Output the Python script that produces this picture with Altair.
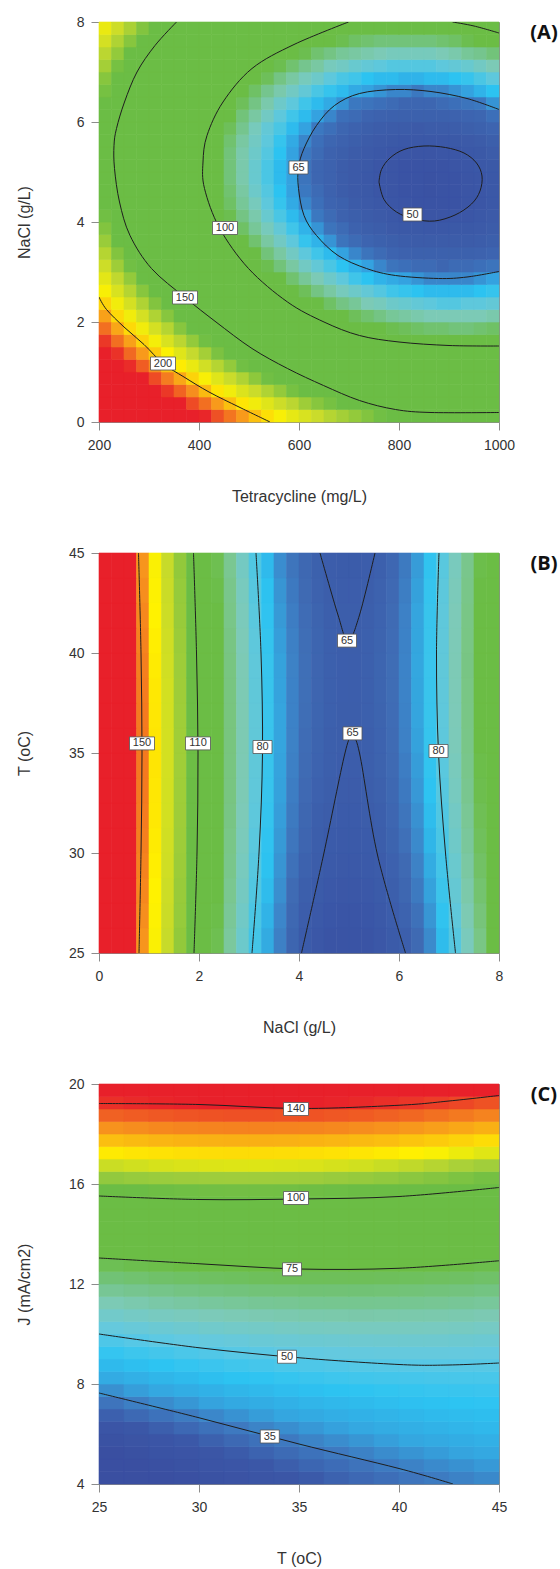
import altair as alt
import pandas as pd

FONT = "Liberation Sans"

# ---------------------------------------------------------------------------
# (A) response over Tetracycline (mg/L) x NaCl (g/L)
# cell centres and the response read at each cell (rows: NaCl ascending)
# ---------------------------------------------------------------------------
A_TC = [212.5, 237.5, 262.5, 287.5, 312.5, 337.5, 362.5, 387.5,
        412.5, 437.5, 462.5, 487.5, 512.5, 537.5, 562.5, 587.5,
        612.5, 637.5, 662.5, 687.5, 712.5, 737.5, 762.5, 787.5,
        812.5, 837.5, 862.5, 887.5, 912.5, 937.5, 962.5, 987.5]
A_NACL = [0.125, 0.375, 0.625, 0.875, 1.125, 1.375, 1.625, 1.875,
          2.125, 2.375, 2.625, 2.875, 3.125, 3.375, 3.625, 3.875,
          4.125, 4.375, 4.625, 4.875, 5.125, 5.375, 5.625, 5.875,
          6.125, 6.375, 6.625, 6.875, 7.125, 7.375, 7.625, 7.875]
A_VALUES = [
    [289, 280, 271, 262, 254, 246, 239, 232, 225, 218, 212, 206, 200, 195, 190, 185, 181, 177, 173, 170, 167, 164, 161, 159, 157, 156, 155, 154, 153, 153, 153, 154],
    [276, 267, 258, 250, 242, 234, 227, 219, 213, 206, 200, 194, 188, 183, 178, 174, 169, 165, 162, 158, 155, 152, 150, 148, 146, 145, 144, 143, 142, 142, 142, 143],
    [264, 255, 246, 238, 230, 222, 215, 208, 201, 194, 188, 182, 177, 172, 167, 162, 158, 154, 150, 147, 144, 141, 139, 137, 135, 134, 133, 132, 132, 131, 132, 132],
    [253, 244, 235, 227, 219, 211, 204, 197, 190, 183, 177, 172, 166, 161, 156, 152, 147, 144, 140, 137, 134, 131, 129, 127, 125, 124, 123, 122, 122, 122, 122, 123],
    [242, 233, 224, 216, 208, 200, 193, 186, 179, 173, 167, 161, 156, 151, 146, 142, 137, 134, 130, 127, 124, 121, 119, 117, 116, 114, 113, 113, 112, 112, 113, 113],
    [232, 223, 214, 206, 198, 191, 183, 176, 170, 163, 157, 152, 146, 141, 137, 132, 128, 124, 121, 118, 115, 112, 110, 108, 107, 106, 105, 104, 104, 104, 104, 105],
    [222, 213, 205, 197, 189, 181, 174, 167, 161, 154, 148, 143, 137, 132, 128, 123, 119, 116, 112, 109, 106, 104, 102, 100, 99, 97, 96, 96, 96, 96, 96, 97],
    [213, 204, 196, 188, 180, 173, 165, 159, 152, 146, 140, 134, 129, 124, 120, 115, 111, 108, 104, 101, 99, 96, 94, 92, 91, 90, 89, 89, 88, 88, 89, 90],
    [205, 196, 188, 180, 172, 165, 157, 151, 144, 138, 132, 127, 122, 117, 112, 108, 104, 100, 97, 94, 91, 89, 87, 85, 84, 83, 82, 82, 82, 82, 82, 83],
    [197, 188, 180, 172, 164, 157, 150, 143, 137, 131, 125, 120, 114, 110, 105, 101, 97, 94, 90, 87, 85, 82, 81, 79, 78, 77, 76, 75, 75, 76, 76, 77],
    [190, 181, 173, 165, 158, 150, 143, 137, 130, 124, 119, 113, 108, 103, 99, 95, 91, 87, 84, 81, 79, 77, 75, 73, 72, 71, 70, 70, 70, 70, 71, 72],
    [184, 175, 167, 159, 151, 144, 137, 131, 124, 118, 113, 107, 102, 98, 93, 89, 85, 82, 79, 76, 73, 71, 69, 68, 67, 66, 65, 65, 65, 65, 66, 67],
    [178, 169, 161, 153, 146, 139, 132, 125, 119, 113, 107, 102, 97, 92, 88, 84, 80, 77, 74, 71, 69, 67, 65, 63, 62, 61, 61, 60, 61, 61, 62, 63],
    [173, 164, 156, 148, 141, 134, 127, 120, 114, 108, 103, 97, 93, 88, 84, 80, 76, 73, 70, 67, 65, 63, 61, 59, 58, 57, 57, 57, 57, 57, 58, 59],
    [168, 160, 152, 144, 136, 129, 123, 116, 110, 104, 99, 93, 89, 84, 80, 76, 72, 69, 66, 63, 61, 59, 57, 56, 55, 54, 54, 54, 54, 54, 55, 56],
    [164, 156, 148, 140, 133, 126, 119, 113, 107, 101, 95, 90, 85, 81, 77, 73, 69, 66, 63, 61, 58, 56, 55, 53, 52, 52, 51, 51, 52, 52, 53, 54],
    [161, 152, 145, 137, 130, 123, 116, 110, 104, 98, 92, 87, 83, 78, 74, 70, 67, 64, 61, 58, 56, 54, 53, 51, 50, 50, 49, 49, 50, 50, 51, 53],
    [158, 150, 142, 134, 127, 120, 114, 107, 101, 96, 90, 85, 81, 76, 72, 68, 65, 62, 59, 57, 54, 53, 51, 50, 49, 48, 48, 48, 48, 49, 50, 51],
    [156, 148, 140, 132, 125, 118, 112, 106, 100, 94, 89, 84, 79, 75, 71, 67, 64, 61, 58, 55, 53, 52, 50, 49, 48, 48, 47, 48, 48, 49, 50, 51],
    [154, 146, 139, 131, 124, 117, 111, 105, 99, 93, 88, 83, 78, 74, 70, 67, 63, 60, 58, 55, 53, 51, 50, 49, 48, 48, 47, 48, 48, 49, 50, 51],
    [154, 146, 138, 130, 123, 117, 110, 104, 98, 93, 88, 83, 78, 74, 70, 67, 63, 60, 58, 55, 53, 52, 50, 49, 48, 48, 48, 48, 49, 50, 51, 52],
    [153, 145, 138, 130, 123, 117, 110, 104, 99, 93, 88, 83, 79, 75, 71, 67, 64, 61, 58, 56, 54, 53, 51, 50, 50, 49, 49, 50, 50, 51, 52, 54],
    [154, 146, 138, 131, 124, 117, 111, 105, 99, 94, 89, 84, 80, 76, 72, 68, 65, 62, 60, 58, 56, 54, 53, 52, 51, 51, 51, 51, 52, 53, 54, 56],
    [155, 147, 140, 132, 125, 119, 112, 107, 101, 96, 91, 86, 81, 77, 74, 70, 67, 64, 62, 60, 58, 56, 55, 54, 54, 53, 54, 54, 55, 56, 57, 59],
    [157, 149, 141, 134, 127, 121, 115, 109, 103, 98, 93, 88, 84, 80, 76, 73, 70, 67, 65, 62, 61, 59, 58, 57, 57, 57, 57, 57, 58, 59, 60, 62],
    [159, 151, 144, 137, 130, 123, 117, 111, 106, 101, 96, 91, 87, 83, 79, 76, 73, 70, 68, 66, 64, 63, 62, 61, 60, 60, 60, 61, 62, 63, 64, 66],
    [162, 154, 147, 140, 133, 126, 120, 115, 109, 104, 99, 95, 90, 86, 83, 80, 77, 74, 72, 70, 68, 67, 66, 65, 65, 64, 65, 65, 66, 67, 69, 71],
    [165, 158, 150, 143, 137, 130, 124, 118, 113, 108, 103, 99, 95, 91, 87, 84, 81, 79, 76, 74, 73, 71, 70, 70, 69, 69, 70, 70, 71, 72, 74, 76],
    [170, 162, 155, 148, 141, 135, 129, 123, 118, 113, 108, 104, 99, 96, 92, 89, 86, 84, 81, 80, 78, 77, 76, 75, 75, 75, 75, 76, 77, 78, 80, 82],
    [174, 167, 160, 153, 146, 140, 134, 128, 123, 118, 113, 109, 105, 101, 98, 95, 92, 89, 87, 85, 84, 83, 82, 81, 81, 81, 81, 82, 83, 85, 86, 88],
    [180, 172, 165, 158, 152, 146, 140, 134, 129, 124, 119, 115, 111, 107, 104, 101, 98, 96, 94, 92, 90, 89, 88, 88, 88, 88, 88, 89, 90, 92, 93, 95],
    [186, 178, 171, 164, 158, 152, 146, 140, 135, 130, 126, 122, 118, 114, 111, 108, 105, 103, 101, 99, 98, 96, 96, 95, 95, 95, 96, 97, 98, 99, 101, 103],
]
A_C200 = [(200, 2.50), (215, 2.25), (250, 1.90), (290, 1.55), (328, 1.17),
          (370, 0.90), (420, 0.60), (480, 0.30), (542, 0.00)]
A_C150 = [(355, 8.0), (312, 7.53), (276, 7.0), (251, 6.4), (235, 5.87), (230, 5.53),
          (231, 5.07), (241, 4.4), (262, 3.73), (305, 3.07), (372, 2.49), (434, 2.0),
          (506, 1.47), (577, 1.07), (649, 0.73), (721, 0.43), (793, 0.25), (864, 0.19),
          (1000, 0.19)]
A_C100 = [(699, 8.0), (590, 7.55), (506, 7.07), (448, 6.4), (416, 5.73), (408, 5.2),
          (411, 4.67), (441, 3.88), (499, 3.07), (577, 2.4), (650, 2.0), (721, 1.73),
          (800, 1.6), (900, 1.53), (1000, 1.52)]
A_C100_CORNER = [(907, 8.0), (950, 7.92), (1000, 7.78)]
A_C65 = [(1000, 6.25), (936, 6.47), (864, 6.61), (793, 6.65), (721, 6.57), (671, 6.33),
         (635, 5.93), (610, 5.47), (599, 5.09), (599, 4.67), (610, 4.13), (635, 3.73),
         (678, 3.33), (735, 3.07), (793, 2.93), (879, 2.87), (936, 2.9), (1000, 3.01)]
A_C50 = [(760, 4.80), (765, 5.05), (782, 5.28), (810, 5.45), (850, 5.52), (893, 5.49),
         (930, 5.38), (955, 5.18), (966, 4.92), (962, 4.62), (945, 4.36), (912, 4.14),
         (871, 4.02), (830, 4.06), (795, 4.20), (770, 4.45), (760, 4.80)]
A_LABELS = [("200", 328, 1.17), ("150", 372, 2.49), ("100", 452, 3.88),
            ("65", 599, 5.09), ("50", 827, 4.15)]
A_STOPS = [47, 55, 60, 64, 67, 71, 76, 82, 88, 93, 160, 176, 192, 207, 226]
A_COLORS = ["#3a52a3", "#3c5daa", "#3d66b1", "#3b78c0", "#34a2e0", "#2cc3f1", "#5ec8dc",
            "#7ccab6", "#72c37a", "#6bbd45", "#6bbd45", "#c6da2e", "#fff200", "#f7941d",
            "#e8202a"]

# ---------------------------------------------------------------------------
# (B) response over NaCl (g/L) x T (oC)   (rows: T ascending)
# ---------------------------------------------------------------------------
B_NACL = [0.125, 0.375, 0.625, 0.875, 1.125, 1.375, 1.625, 1.875,
          2.125, 2.375, 2.625, 2.875, 3.125, 3.375, 3.625, 3.875,
          4.125, 4.375, 4.625, 4.875, 5.125, 5.375, 5.625, 5.875,
          6.125, 6.375, 6.625, 6.875, 7.125, 7.375, 7.625, 7.875]
B_T = [25.625, 26.875, 28.125, 29.375, 30.625, 31.875, 33.125, 34.375,
       35.625, 36.875, 38.125, 39.375, 40.625, 41.875, 43.125, 44.375]
B_VALUES = [
    [180.2, 168.5, 157.4, 146.9, 137.0, 127.8, 119.2, 111.1, 103.8, 97.0, 89.8, 84.3, 79.3, 75.0, 71.3, 67.4,
     64.3, 62.4, 61.2, 60.6, 60.6, 61.2, 62.3, 64.1, 66.1, 68.7, 72.3, 76.4, 81.2, 86.5, 92.4, 98.9],
    [180.8, 169.1, 158.0, 147.5, 137.6, 128.4, 119.8, 111.7, 104.4, 97.6, 90.5, 85.0, 80.0, 75.7, 72.0, 68.3,
     65.2, 63.3, 62.1, 61.5, 61.5, 62.1, 63.2, 65.0, 67.1, 69.7, 73.3, 77.4, 82.2, 87.5, 93.4, 99.9],
    [181.2, 169.5, 158.4, 147.9, 138.0, 128.8, 120.2, 112.1, 104.8, 98.0, 91.2, 85.7, 80.7, 76.4, 72.7, 69.0,
     66.1, 64.2, 63.0, 62.4, 62.4, 63.0, 64.1, 65.9, 68.0, 70.7, 74.3, 78.4, 83.2, 88.5, 94.4, 100.9],
    [181.6, 169.9, 158.8, 148.3, 138.4, 129.2, 120.6, 112.5, 105.2, 98.4, 91.7, 86.2, 81.2, 76.9, 73.2, 69.7,
     66.8, 64.9, 63.7, 63.1, 63.1, 63.7, 64.8, 66.6, 68.8, 71.5, 75.1, 79.2, 84.0, 89.3, 95.2, 101.7],
    [181.9, 170.2, 159.1, 148.6, 138.7, 129.5, 120.9, 112.8, 105.5, 98.7, 92.1, 86.6, 81.6, 77.3, 73.6, 70.2,
     67.5, 65.6, 64.4, 63.8, 63.8, 64.4, 65.5, 67.3, 69.5, 72.3, 75.9, 80.0, 84.8, 90.1, 96.0, 102.5],
    [182.2, 170.5, 159.4, 148.9, 139.0, 129.8, 121.2, 113.1, 105.8, 99.0, 92.5, 87.0, 82.0, 77.7, 74.0, 70.7,
     68.0, 66.1, 64.9, 64.3, 64.3, 64.9, 66.0, 67.8, 70.1, 72.9, 76.5, 80.6, 85.4, 90.7, 96.6, 103.1],
    [182.3, 170.6, 159.5, 149.0, 139.1, 129.9, 121.3, 113.2, 105.9, 99.1, 92.8, 87.3, 82.3, 78.0, 74.3, 71.0,
     68.5, 66.6, 65.4, 64.8, 64.8, 65.4, 66.5, 68.3, 70.6, 73.5, 77.1, 81.2, 86.0, 91.3, 97.2, 103.7],
    [182.4, 170.7, 159.6, 149.1, 139.2, 130.0, 121.4, 113.3, 106.0, 99.2, 92.9, 87.4, 82.4, 78.1, 74.4, 71.3,
     68.9, 67.0, 65.8, 65.2, 65.2, 65.8, 66.9, 68.7, 71.0, 73.9, 77.5, 81.6, 86.4, 91.7, 97.6, 104.1],
    [182.4, 170.7, 159.6, 149.1, 139.2, 130.0, 121.4, 113.3, 106.0, 99.2, 93.0, 87.5, 82.5, 78.2, 74.5, 71.5,
     69.1, 67.2, 66.0, 65.4, 65.4, 66.0, 67.1, 68.9, 71.4, 74.3, 77.9, 82.0, 86.8, 92.1, 98.0, 104.5],
    [182.3, 170.6, 159.5, 149.0, 139.1, 129.9, 121.3, 113.2, 105.9, 99.1, 93.0, 87.5, 82.5, 78.2, 74.5, 71.6,
     69.3, 67.4, 66.2, 65.6, 65.6, 66.2, 67.3, 69.1, 71.6, 74.5, 78.1, 82.2, 87.0, 92.3, 98.2, 104.7],
    [182.2, 170.5, 159.4, 148.9, 139.0, 129.8, 121.2, 113.1, 105.8, 99.0, 92.9, 87.4, 82.4, 78.1, 74.4, 71.6,
     69.4, 67.5, 66.3, 65.7, 65.7, 66.3, 67.4, 69.2, 71.7, 74.6, 78.2, 82.3, 87.1, 92.4, 98.3, 104.8],
    [181.9, 170.2, 159.1, 148.6, 138.7, 129.5, 120.9, 112.8, 105.5, 98.7, 92.8, 87.3, 82.3, 78.0, 74.3, 71.5,
     69.4, 67.5, 66.3, 65.7, 65.7, 66.3, 67.4, 69.2, 71.7, 74.7, 78.3, 82.4, 87.2, 92.5, 98.4, 104.9],
    [181.6, 169.9, 158.8, 148.3, 138.4, 129.2, 120.6, 112.5, 105.2, 98.4, 92.5, 87.0, 82.0, 77.7, 74.0, 71.3,
     69.3, 67.4, 66.2, 65.6, 65.6, 66.2, 67.3, 69.1, 71.6, 74.6, 78.2, 82.3, 87.1, 92.4, 98.3, 104.8],
    [181.2, 169.5, 158.4, 147.9, 138.0, 128.8, 120.2, 112.1, 104.8, 98.0, 92.1, 86.6, 81.6, 77.3, 73.6, 71.0,
     69.1, 67.2, 66.0, 65.4, 65.4, 66.0, 67.1, 68.9, 71.4, 74.5, 78.1, 82.2, 87.0, 92.3, 98.2, 104.7],
    [180.8, 169.1, 158.0, 147.5, 137.6, 128.4, 119.8, 111.7, 104.4, 97.6, 91.7, 86.2, 81.2, 76.9, 73.2, 70.6,
     68.7, 66.8, 65.6, 65.0, 65.0, 65.6, 66.7, 68.5, 71.1, 74.2, 77.8, 81.9, 86.7, 92.0, 97.9, 104.4],
    [180.2, 168.5, 157.4, 146.9, 137.0, 127.8, 119.2, 111.1, 103.8, 97.0, 91.1, 85.6, 80.6, 76.3, 72.6, 70.1,
     68.3, 66.4, 65.2, 64.6, 64.6, 65.2, 66.3, 68.1, 70.7, 73.8, 77.4, 81.5, 86.3, 91.6, 97.5, 104.0],
]
B_C150 = [(0.80, 25), (0.84, 30), (0.86, 35), (0.84, 40), (0.79, 45)]
B_C110 = [(1.90, 25), (1.96, 30), (1.98, 35), (1.95, 40), (1.89, 45)]
B_C80_LEFT = [(3.06, 25), (3.20, 30), (3.27, 35), (3.24, 40), (3.14, 45)]
B_C80_RIGHT = [(7.13, 25), (6.93, 30), (6.79, 35), (6.75, 40), (6.80, 45)]
B_C65_LOWER = [(4.05, 25), (4.49, 29.9), (4.92, 35.0), (5.06, 35.7), (5.21, 35.0),
               (5.57, 29.9), (6.13, 25)]
B_C65_UPPER = [(4.42, 45), (4.78, 41.9), (4.98, 40.6), (5.21, 41.9), (5.52, 45)]
B_LABELS = [("150", 0.86, 35.48), ("110", 1.98, 35.48), ("80", 3.27, 35.3),
            ("65", 4.96, 40.62), ("65", 5.07, 35.98), ("80", 6.79, 35.1)]
B_STOPS = [61, 66, 69, 72, 77, 82, 87, 93, 98, 113, 126, 138, 147, 156]
B_COLORS = ["#3a54a5", "#3c5fac", "#3f6bb4", "#3c86ca", "#2dc3f1", "#5ec8dc", "#7dcab8",
            "#78c57f", "#6bbd45", "#6bbd45", "#bdd731", "#fff200", "#f7941d", "#e8202a"]

# ---------------------------------------------------------------------------
# (C) response over T (oC) x J (mA/cm2)   (rows: J ascending)
# ---------------------------------------------------------------------------
C_T = [25.625, 26.875, 28.125, 29.375, 30.625, 31.875, 33.125, 34.375,
       35.625, 36.875, 38.125, 39.375, 40.625, 41.875, 43.125, 44.375]
C_J = [4.25, 4.75, 5.25, 5.75, 6.25, 6.75, 7.25, 7.75, 8.25, 8.75, 9.25, 9.75,
       10.25, 10.75, 11.25, 11.75, 12.25, 12.75, 13.25, 13.75, 14.25, 14.75, 15.25, 15.75,
       16.25, 16.75, 17.25, 17.75, 18.25, 18.75, 19.25, 19.75]
C_VALUES = [
    [23.2, 24.4, 25.5, 26.6, 27.6, 28.6, 29.6, 30.5, 31.4, 32.3, 33.1, 33.8, 34.6, 35.3, 35.9, 36.5],
    [24.5, 25.7, 26.8, 27.9, 29.0, 30.0, 31.0, 31.9, 32.8, 33.6, 34.4, 35.2, 35.9, 36.6, 37.2, 37.9],
    [26.0, 27.2, 28.4, 29.4, 30.5, 31.5, 32.5, 33.4, 34.3, 35.1, 35.9, 36.7, 37.4, 38.1, 38.8, 39.4],
    [27.7, 28.9, 30.0, 31.1, 32.2, 33.2, 34.1, 35.1, 36.0, 36.8, 37.6, 38.4, 39.1, 39.8, 40.4, 41.0],
    [29.8, 30.9, 32.0, 33.1, 34.1, 35.1, 36.0, 36.9, 37.8, 38.6, 39.4, 40.1, 40.8, 41.4, 42.0, 42.5],
    [32.1, 33.2, 34.3, 35.3, 36.3, 37.3, 38.2, 39.0, 39.8, 40.5, 41.2, 41.8, 42.4, 42.9, 43.4, 43.8],
    [34.5, 35.6, 36.7, 37.7, 38.7, 39.6, 40.4, 41.2, 41.9, 42.6, 43.1, 43.7, 44.2, 44.6, 44.9, 45.2],
    [37.1, 38.3, 39.3, 40.3, 41.2, 42.1, 42.8, 43.6, 44.2, 44.8, 45.3, 45.7, 46.1, 46.4, 46.6, 46.8],
    [39.9, 41.0, 42.1, 43.0, 43.9, 44.7, 45.4, 46.1, 46.7, 47.2, 47.6, 47.9, 48.2, 48.4, 48.5, 48.6],
    [42.9, 44.0, 45.0, 45.9, 46.8, 47.5, 48.2, 48.8, 49.3, 49.7, 50.1, 50.3, 50.5, 50.6, 50.6, 50.5],
    [46.0, 47.1, 48.1, 49.0, 49.8, 50.5, 51.1, 51.7, 52.1, 52.5, 52.7, 52.9, 52.9, 52.9, 52.8, 52.6],
    [49.4, 50.4, 51.4, 52.2, 53.0, 53.6, 54.2, 54.7, 55.1, 55.3, 55.5, 55.6, 55.6, 55.6, 55.4, 55.1],
    [52.9, 53.9, 54.8, 55.6, 56.3, 56.9, 57.4, 57.9, 58.2, 58.4, 58.6, 58.6, 58.6, 58.4, 58.2, 57.8],
    [56.6, 57.5, 58.4, 59.1, 59.8, 60.4, 60.8, 61.2, 61.5, 61.7, 61.8, 61.7, 61.6, 61.4, 61.1, 60.7],
    [60.4, 61.3, 62.2, 62.9, 63.5, 64.0, 64.4, 64.7, 65.0, 65.1, 65.1, 65.0, 64.9, 64.6, 64.2, 63.8],
    [64.5, 65.3, 66.1, 66.8, 67.3, 67.8, 68.2, 68.4, 68.6, 68.7, 68.6, 68.5, 68.3, 67.9, 67.5, 67.0],
    [68.7, 69.5, 70.2, 70.8, 71.3, 71.7, 72.1, 72.3, 72.4, 72.4, 72.3, 72.1, 71.8, 71.4, 71.0, 70.4],
    [73.0, 73.8, 74.4, 75.0, 75.5, 75.8, 76.1, 76.3, 76.3, 76.3, 76.2, 75.9, 75.6, 75.1, 74.6, 73.9],
    [77.6, 78.3, 78.9, 79.4, 79.8, 80.1, 80.3, 80.4, 80.5, 80.4, 80.2, 79.9, 79.5, 79.0, 78.4, 77.7],
    [82.3, 82.9, 83.5, 83.9, 84.3, 84.6, 84.7, 84.8, 84.7, 84.6, 84.4, 84.0, 83.6, 83.1, 82.4, 81.7],
    [87.1, 87.7, 88.2, 88.6, 89.0, 89.2, 89.3, 89.3, 89.2, 89.0, 88.7, 88.3, 87.9, 87.3, 86.6, 85.8],
    [92.2, 92.7, 93.2, 93.5, 93.8, 93.9, 94.0, 94.0, 93.8, 93.6, 93.3, 92.8, 92.3, 91.7, 90.9, 90.1],
    [97.4, 97.9, 98.3, 98.6, 98.8, 98.9, 98.9, 98.8, 98.6, 98.3, 97.9, 97.4, 96.9, 96.2, 95.4, 94.6],
    [102.5, 103.0, 103.4, 103.6, 103.8, 103.9, 103.9, 103.8, 103.5, 103.2, 102.8, 102.3, 101.7, 101.0, 100.2, 99.3],
    [107.5, 108.0, 108.4, 108.7, 108.9, 109.0, 109.0, 108.9, 108.7, 108.3, 107.9, 107.4, 106.7, 106.0, 105.1, 104.2],
    [112.7, 113.2, 113.7, 114.0, 114.2, 114.3, 114.3, 114.2, 114.0, 113.6, 113.2, 112.6, 111.9, 111.1, 110.2, 109.2],
    [118.0, 118.6, 119.1, 119.4, 119.7, 119.8, 119.8, 119.7, 119.4, 119.1, 118.6, 118.0, 117.3, 116.5, 115.5, 114.5],
    [123.5, 124.2, 124.7, 125.0, 125.3, 125.4, 125.4, 125.3, 125.0, 124.7, 124.2, 123.6, 122.8, 122.0, 121.0, 119.8],
    [129.2, 129.9, 130.4, 130.8, 131.1, 131.2, 131.2, 131.1, 130.8, 130.4, 129.9, 129.3, 128.5, 127.6, 126.6, 125.4],
    [135.1, 135.7, 136.3, 136.7, 137.0, 137.2, 137.2, 137.0, 136.8, 136.4, 135.9, 135.2, 134.4, 133.4, 132.3, 131.1],
    [141.1, 141.8, 142.4, 142.8, 143.1, 143.3, 143.3, 143.2, 142.9, 142.5, 141.9, 141.2, 140.4, 139.4, 138.3, 137.0],
    [147.4, 148.1, 148.7, 149.1, 149.4, 149.6, 149.6, 149.5, 149.2, 148.8, 148.2, 147.5, 146.7, 145.7, 144.6, 143.3],
]
C_C140 = [(25, 19.22), (30, 19.18), (35, 19.02), (40, 19.15), (42.5, 19.32), (45, 19.54)]
C_C100 = [(25, 15.52), (30, 15.38), (35, 15.40), (40, 15.50), (45, 15.86)]
C_C75 = [(25, 13.04), (30, 12.81), (35, 12.60), (40, 12.63), (45, 12.93)]
C_C50 = [(25, 10.0), (30, 9.45), (35, 9.05), (40, 8.78), (42.5, 8.76), (45, 8.84)]
C_C35 = [(25, 7.64), (30, 6.65), (35, 5.6), (40, 4.62), (42.7, 4.0)]
C_LABELS = [("140", 34.85, 19.0), ("100", 34.85, 15.44), ("75", 34.65, 12.59),
            ("50", 34.4, 9.09), ("35", 33.54, 5.9)]
C_STOPS = [26, 31, 35, 39, 45, 52, 60, 68, 75, 103, 110, 117, 129, 143]
C_COLORS = ["#3a4fa1", "#3b57a7", "#3e78bf", "#34a6e0", "#2dc4f2", "#62c9e2", "#7dcab8",
            "#72c37a", "#6bbd45", "#6bbd45", "#a8d03a", "#fff200", "#f7941d", "#e8202a"]


def grid_frame(xs, ys, values):
    """One rectangle per grid cell, edges half a step either side of the centre."""
    hx = (xs[1] - xs[0]) / 2
    hy = (ys[1] - ys[0]) / 2
    recs = []
    for yv, row in zip(ys, values):
        for xv, v in zip(xs, row):
            recs.append({"x0": xv - hx, "x1": xv + hx, "y0": yv - hy, "y1": yv + hy, "v": v})
    return pd.DataFrame(recs)


def line_frame(curves):
    recs = []
    for cid, pts in enumerate(curves):
        for k, (xv, yv) in enumerate(pts):
            recs.append({"cid": cid, "k": k, "x": xv, "y": yv})
    return pd.DataFrame(recs)


def panel(heat, curves, labels, xdom, ydom, xticks, yticks, xtitle, ytitle,
          stops, colors, letter):
    xs = alt.Scale(domain=xdom, nice=False, zero=False)
    ys = alt.Scale(domain=ydom, nice=False, zero=False)
    cs = alt.Scale(domain=stops, range=colors, clamp=True, interpolate="rgb")

    # the same axis definition is used by every layer so that they merge cleanly
    xaxis = alt.Axis(values=xticks, title=xtitle, titleY=66, labelFlush=False,
                     labelOverlap=False, format="d")
    yaxis = alt.Axis(values=yticks, title=ytitle, titleX=-67, titleY=200,
                     labelOverlap=False, format="d")

    def X(field):
        return alt.X(field, type="quantitative", scale=xs, axis=xaxis)

    def Y(field):
        return alt.Y(field, type="quantitative", scale=ys, axis=yaxis)

    cells = alt.Chart(grid_frame(*heat)).mark_rect(strokeWidth=0.6).encode(
        x=X("x0"),
        x2=alt.X2("x1"),
        y=Y("y0"),
        y2=alt.Y2("y1"),
        color=alt.Color("v:Q", scale=cs, legend=None),
        stroke=alt.Stroke("v:Q", scale=cs, legend=None),
    )

    lines = alt.Chart(line_frame(curves)).mark_line(
        color="#1e1e1e", strokeWidth=1, interpolate="cardinal", clip=True
    ).encode(
        x=X("x"),
        y=Y("y"),
        detail="cid:N",
        order="k:Q",
    )

    lab = pd.DataFrame(labels, columns=["text", "x", "y"])

    def boxes(n_chars, w):
        return alt.Chart(lab).transform_filter(
            f"length(datum.text) == {n_chars}"
        ).mark_rect(
            fill="white", stroke="#555555", strokeWidth=0.8,
            xOffset=-w / 2, x2Offset=w / 2, yOffset=-6.5, y2Offset=6.5,
        ).encode(
            x=X("x"),
            x2=alt.X2("x"),
            y=Y("y"),
            y2=alt.Y2("y"),
        )

    texts = alt.Chart(lab).mark_text(font=FONT, fontSize=11, color="#333333").encode(
        x=X("x"),
        y=Y("y"),
        text="text:N",
    )

    tag = alt.Chart(pd.DataFrame({"t": [letter]})).mark_text(
        font="Open Sans", fontWeight="bold", fontSize=20, color="#111111"
    ).encode(x=alt.value(445), y=alt.value(11), text="t:N")

    return alt.layer(cells, lines, boxes(3, 25), boxes(2, 19), texts, tag).properties(
        width=400, height=400
    )


pa = panel(
    (A_TC, A_NACL, A_VALUES),
    [A_C200, A_C150, A_C100, A_C100_CORNER, A_C65, A_C50],
    A_LABELS, [200, 1000], [0, 8], [200, 400, 600, 800, 1000], [0, 2, 4, 6, 8],
    "Tetracycline (mg/L)", "NaCl (g/L)", A_STOPS, A_COLORS, "(A)",
)
pb = panel(
    (B_NACL, B_T, B_VALUES),
    [B_C150, B_C110, B_C80_LEFT, B_C80_RIGHT, B_C65_LOWER, B_C65_UPPER],
    B_LABELS, [0, 8], [25, 45], [0, 2, 4, 6, 8], [25, 30, 35, 40, 45],
    "NaCl (g/L)", "T (oC)", B_STOPS, B_COLORS, "(B)",
)
pc = panel(
    (C_T, C_J, C_VALUES),
    [C_C140, C_C100, C_C75, C_C50, C_C35],
    C_LABELS, [25, 45], [4, 20], [25, 30, 35, 40, 45], [4, 8, 12, 16, 20],
    "T (oC)", "J (mA/cm2)", C_STOPS, C_COLORS, "(C)",
)

chart = alt.vconcat(pa, pb, pc, spacing=40).resolve_scale(
    x="independent", y="independent", color="independent", stroke="independent"
).configure_view(
    stroke="#8c8c8c", strokeWidth=1
).configure_axis(
    domainColor="#8c8c8c", tickColor="#8c8c8c", tickSize=8, grid=False,
    labelFont=FONT, labelFontSize=14, labelColor="#333333",
    titleFont=FONT, titleFontSize=16, titleFontWeight="normal", titleColor="#333333",
).configure_axisX(
    labelPadding=8
).configure_axisY(
    labelPadding=7
).properties(
    padding={"left": 15, "top": 14, "right": 0, "bottom": 0},
    background="white",
)

chart.save("out.html", embed_options={"renderer": "svg", "actions": False})
